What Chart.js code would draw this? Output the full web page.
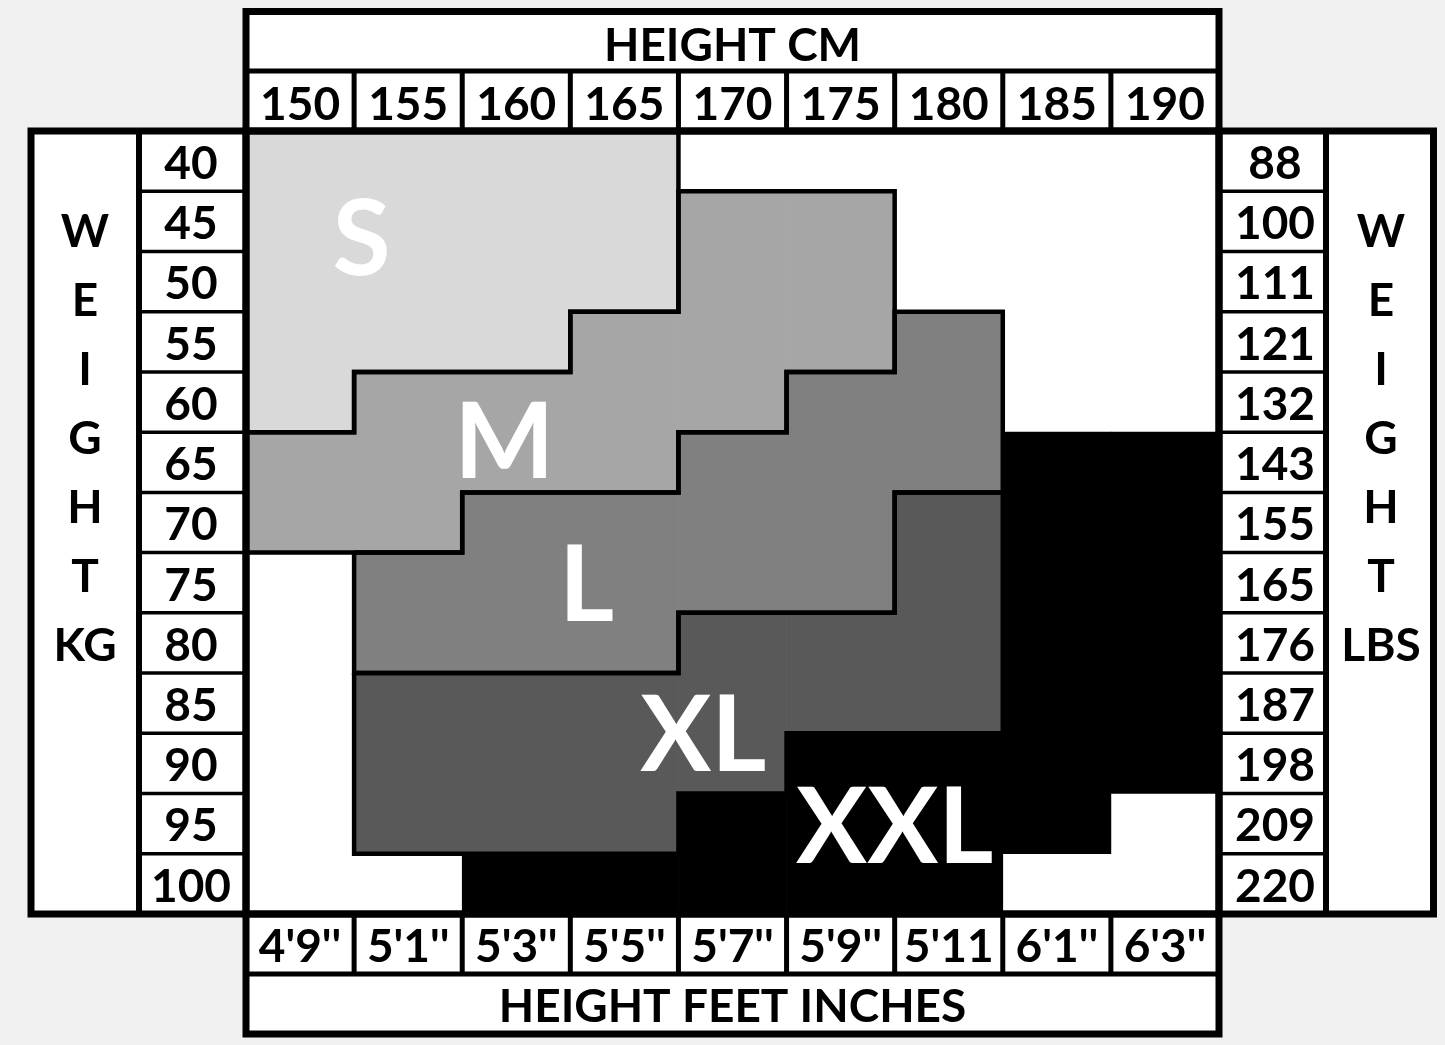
<!DOCTYPE html>
<html>
<head>
<meta charset="utf-8">
<title>Size chart</title>
<script src="https://cdn.jsdelivr.net/npm/chart.js@4.4.1/dist/chart.umd.min.js"></script>
<style>
  html, body { margin: 0; padding: 0; background: #f0f0f0; }
  canvas { display: block; }
</style>
</head>
<body>
<canvas id="sizeChart" width="1445" height="1045"></canvas>
<script>
// axis labels
const heightsCm = ['150', '155', '160', '165', '170', '175', '180', '185', '190'];
const heightsFt = ["4'9''", "5'1''", "5'3''", "5'5''", "5'7''", "5'9''", "5'11", "6'1''", "6'3''"];
const weightsKg = [40, 45, 50, 55, 60, 65, 70, 75, 80, 85, 90, 95, 100];
const weightsLbs = [88, 100, 111, 121, 132, 143, 155, 165, 176, 187, 198, 209, 220];

// weight range (kg) covered by each size, one entry per height column
const sizeS   = [[40, 60], [40, 55], [40, 55], [40, 50], null, null, null, null, null];
const sizeM   = [[65, 70], [60, 70], [60, 65], [55, 65], [45, 60], [45, 55], null, null, null];
const sizeL   = [null, [75, 80], [70, 80], [70, 80], [65, 75], [60, 75], [55, 65], null, null];
const sizeXL  = [null, [85, 95], [85, 95], [85, 95], [80, 90], [80, 85], [70, 85], null, null];
const sizeXXL = [null, null, [100, 100], [100, 100], [95, 100], [90, 100], [90, 100], [65, 95], [65, 90]];

const sizeNames = ['S', 'M', 'L', 'XL', 'XXL'];
const sizeRanges = [sizeS, sizeM, sizeL, sizeXL, sizeXXL];

const sizeColors = ['#d9d9d9', '#a6a6a6', '#808080', '#595959', '#000000'];
const FONT = 'Lato, "Open Sans", sans-serif';
const half = (weightsKg[1] - weightsKg[0]) / 2;

// each size cell spans its whole 5kg row
const toBar = ranges => ranges.map(r => r ? [r[0] - half, r[1] + half] : null);

// stepped outline around a size block, in (column index, kg) units
function outline(ranges) {
  const cols = ranges.map((r, i) => r ? i : -1).filter(i => i >= 0);
  const pts = [];
  cols.forEach(i => {
    pts.push({ x: i - 0.5, y: ranges[i][0] - half }, { x: i + 0.5, y: ranges[i][0] - half });
  });
  cols.slice().reverse().forEach(i => {
    pts.push({ x: i + 0.5, y: ranges[i][1] + half }, { x: i - 0.5, y: ranges[i][1] + half });
  });
  pts.push(pts[0]);
  return pts;
}

const bars = sizeNames.map((name, k) => ({
  type: 'bar',
  label: name,
  data: toBar(sizeRanges[k]),
  backgroundColor: sizeColors[k],
  borderWidth: 0,
  barPercentage: 1,
  categoryPercentage: 1,
  grouped: false,
  xAxisID: 'x',
  yAxisID: 'y',
  order: 2
}));

const outlines = sizeNames.slice(0, 4).map((name, k) => ({
  type: 'line',
  label: name + ' outline',
  data: outline(sizeRanges[k]),
  xAxisID: 'xo',
  yAxisID: 'y',
  borderColor: '#000',
  borderWidth: 4.5,
  borderJoinStyle: 'miter',
  pointRadius: 0,
  fill: false,
  tension: 0,
  order: 1
}));

// where the big size letters sit (column index, kg)
const sizeLabelPos = [
  { text: 'S', x: 0.57, y: 46.3 },
  { text: 'M', x: 1.89, y: 63.1 },
  { text: 'L', x: 2.65, y: 75.0 },
  { text: 'XL', x: 3.73, y: 87.5 },
  { text: 'XXL', x: 5.50, y: 95.1 }
];

const tickFont = { family: FONT, size: 46, weight: 'bold' };

const framePlugin = {
  id: 'frame',
  beforeDraw(chart) {
    const { ctx, chartArea: a, width, height } = chart;
    ctx.save();
    ctx.fillStyle = '#f0f0f0';
    ctx.fillRect(0, 0, width, height);
    ctx.fillStyle = '#ffffff';
    ctx.fillRect(a.left, 11, a.right - a.left, a.top - 11);
    ctx.fillRect(31, a.top, 1433 - 31, a.bottom - a.top);
    ctx.fillRect(a.left, a.bottom, a.right - a.left, 1034 - a.bottom);
    ctx.restore();
  },
  afterDatasetsDraw(chart) {
    const { ctx } = chart;
    const xs = chart.scales.xo, ys = chart.scales.y;
    ctx.save();
    ctx.fillStyle = '#ffffff';
    ctx.font = 'bold 106px ' + FONT;
    ctx.textAlign = 'center';
    ctx.textBaseline = 'middle';
    sizeLabelPos.forEach(l => {
      ctx.fillText(l.text, xs.getPixelForValue(l.x), ys.getPixelForValue(l.y) + 4);
    });
    ctx.restore();
  },
  afterDraw(chart) {
    const { ctx, chartArea: a } = chart;
    const xs = chart.scales.xo, ys = chart.scales.y;
    const line = (x1, y1, x2, y2, w) => {
      ctx.lineWidth = w;
      ctx.beginPath();
      ctx.moveTo(x1, y1);
      ctx.lineTo(x2, y2);
      ctx.stroke();
    };
    const box = (l, t, r, b, w) => { ctx.lineWidth = w; ctx.strokeRect(l, t, r - l, b - t); };
    ctx.save();
    ctx.strokeStyle = '#000';
    ctx.lineCap = 'butt';

    // column dividers in the cm and feet rows
    for (let i = 1; i < heightsCm.length; i++) {
      const px = xs.getPixelForValue(i - 0.5);
      line(px, 71, px, a.top, 5);
      line(px, a.bottom, px, 974, 5);
    }
    // row dividers in the kg and lbs columns
    for (let i = 1; i < weightsKg.length; i++) {
      const py = ys.getPixelForValue(weightsKg[i] - half);
      line(139, py, a.left, py, 3.5);
      line(a.right, py, 1326, py, 3.5);
    }
    line(a.left, 71, a.right, 71, 5);
    line(a.left, 974, a.right, 974, 5);
    line(139, a.top, 139, a.bottom, 6);
    line(1326, a.top, 1326, a.bottom, 6);

    ctx.lineJoin = 'miter';
    box(a.left, 11.5, a.right, a.top, 7);
    box(31, a.top, a.left, a.bottom, 7);
    box(a.right, a.top, 1433.5, a.bottom, 7);
    box(a.left, a.bottom, a.right, 1034, 7);
    box(a.left, a.top, a.right, a.bottom, 7);

    // vertical side titles
    ctx.fillStyle = '#000';
    ctx.font = 'bold 46px ' + FONT;
    ctx.textAlign = 'center';
    ctx.textBaseline = 'alphabetic';
    const left = ['W', 'E', 'I', 'G', 'H', 'T', 'KG'];
    const right = ['W', 'E', 'I', 'G', 'H', 'T', 'LBS'];
    left.forEach((t, i) => ctx.fillText(t, 85, 247 + i * 69));
    right.forEach((t, i) => ctx.fillText(t, 1381, 247 + i * 69));
    ctx.restore();
  }
};

new Chart(document.getElementById('sizeChart'), {
  type: 'bar',
  data: {
    labels: heightsCm,
    datasets: [...outlines, ...bars]
  },
  options: {
    responsive: false,
    animation: false,
    layout: { padding: 0 },
    plugins: {
      legend: { display: false },
      tooltip: { enabled: false }
    },
    scales: {
      x: {
        type: 'category',
        position: 'top',
        offset: true,
        grid: { display: false, drawTicks: false },
        border: { display: false },
        ticks: { font: tickFont, color: '#000', padding: -2, autoSkip: false, maxRotation: 0, minRotation: 0 },
        title: { display: true, text: 'HEIGHT CM', color: '#000', font: tickFont, padding: { top: 19, bottom: 0 } },
        afterFit: s => { s.height = 131; }
      },
      x2: {
        type: 'category',
        labels: heightsFt,
        position: 'bottom',
        offset: true,
        grid: { display: false, drawTicks: false },
        border: { display: false },
        ticks: { font: tickFont, color: '#000', padding: 6, autoSkip: false, maxRotation: 0, minRotation: 0 },
        title: { display: true, text: 'HEIGHT FEET INCHES', color: '#000', font: tickFont, padding: { top: 0, bottom: 10 } },
        afterFit: s => { s.height = 131; }
      },
      xo: {
        type: 'linear',
        display: false,
        offset: false,
        min: -0.5,
        max: heightsCm.length - 0.5
      },
      y: {
        type: 'linear',
        position: 'left',
        reverse: true,
        min: weightsKg[0] - half,
        max: weightsKg[weightsKg.length - 1] + half,
        afterBuildTicks: s => { s.ticks = weightsKg.map(v => ({ value: v })); },
        grid: { display: false, drawTicks: false },
        border: { display: false },
        ticks: { font: tickFont, color: '#000', padding: 15, crossAlign: 'center', labelOffset: 3 },
        afterFit: s => { s.width = 246; }
      },
      y2: {
        type: 'linear',
        position: 'right',
        reverse: true,
        min: weightsKg[0] - half,
        max: weightsKg[weightsKg.length - 1] + half,
        afterBuildTicks: s => { s.ticks = weightsKg.map(v => ({ value: v })); },
        grid: { display: false, drawTicks: false },
        border: { display: false },
        ticks: { font: tickFont, color: '#000', padding: 16, crossAlign: 'center', labelOffset: 3, callback: (v, i) => weightsLbs[i] },
        afterFit: s => { s.width = 226; }
      }
    }
  },
  plugins: [framePlugin]
});
</script>
</body>
</html>
